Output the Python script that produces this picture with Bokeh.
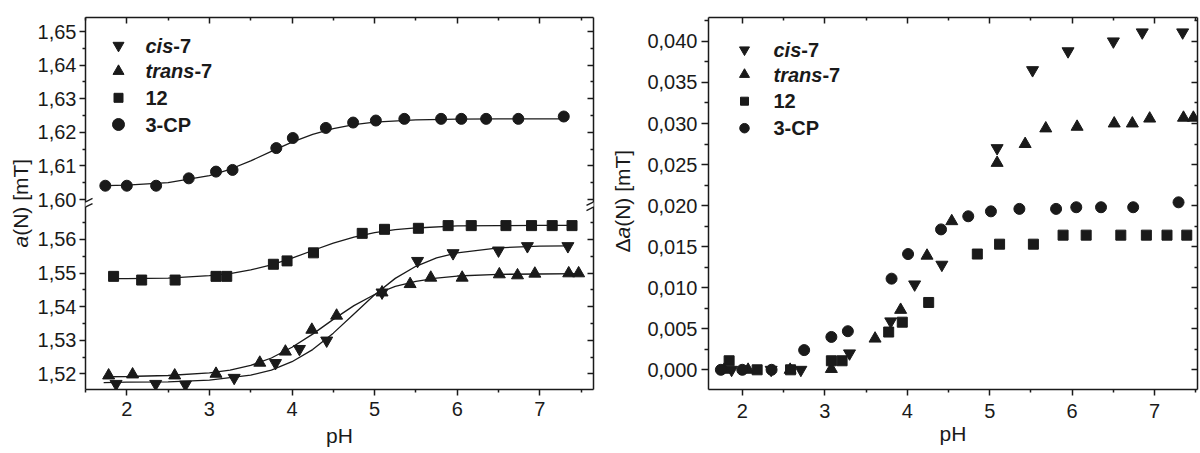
import math
from bokeh.plotting import figure
from bokeh.models import (Range1d, LinearAxis, FixedTicker, CustomJSTickFormatter,
                          Label, Arrow)
from bokeh.layouts import row
from bokeh.embed import file_html
from bokeh.resources import INLINE

# ---------------- data ----------------
# left panel: a(N) [mT] vs pH
ph_cis = [1.87, 2.35, 2.71, 3.30, 3.80, 4.09, 4.42, 5.09, 5.52, 5.95, 6.50, 6.85, 7.34]
aN_cis = [1.5170, 1.5170, 1.5168, 1.5188, 1.5232, 1.5274, 1.5299, 1.5442, 1.5536,
          1.5559, 1.5567, 1.5580, 1.5580]
ph_trans = [1.78, 2.07, 2.58, 3.08, 3.61, 3.92, 4.24, 4.54, 5.09, 5.43, 5.68, 6.06,
            6.51, 6.73, 6.94, 7.35, 7.47]
aN_trans = [1.5195, 1.5198, 1.5195, 1.5200, 1.5233, 1.5266, 1.5331, 1.5373, 1.5442,
            1.5467, 1.5486, 1.5486, 1.5496, 1.5493, 1.5498, 1.5499, 1.5499]
ph_12 = [1.84, 2.18, 2.585, 3.08, 3.21, 3.775, 3.94, 4.26, 4.85, 5.12, 5.53, 5.89,
         6.17, 6.59, 6.90, 7.15, 7.39]
aN_12 = [1.5490, 1.5479, 1.5479, 1.5490, 1.5490, 1.5526, 1.5536, 1.5560, 1.5618,
         1.5630, 1.5633, 1.5641, 1.5641, 1.5641, 1.5641, 1.5641, 1.5641]
ph_3cp = [1.74, 2.00, 2.355, 2.75, 3.08, 3.28, 3.81, 4.01, 4.41, 4.74, 5.015, 5.36,
          5.805, 6.05, 6.35, 6.74, 7.29]
aN_3cp = [1.6041, 1.6041, 1.6041, 1.6063, 1.6083, 1.6088, 1.6153, 1.6183, 1.6213,
          1.6229, 1.6235, 1.6240, 1.6240, 1.6240, 1.6240, 1.6240, 1.6247]

# fitted curves
fit_ph_cis = [1.72, 2.0, 2.5, 3.0, 3.5, 3.75, 4.0, 4.25, 4.5, 4.75, 5.0, 5.25, 5.5,
              5.75, 6.0, 6.5, 7.0, 7.34]
fit_cis = [1.5174, 1.5175, 1.5176, 1.5181, 1.5196, 1.5211, 1.5236, 1.5272, 1.5321,
           1.5378, 1.5435, 1.5484, 1.5520, 1.5545, 1.5560, 1.5575, 1.5580, 1.5581]
fit_ph_trans = [1.72, 2.0, 2.5, 3.0, 3.25, 3.5, 3.75, 4.0, 4.25, 4.5, 4.75, 5.0,
                5.25, 5.5, 5.75, 6.0, 6.5, 7.0, 7.5]
fit_trans = [1.5191, 1.5192, 1.5195, 1.5203, 1.5211, 1.5225, 1.5247, 1.5279, 1.5318,
             1.5362, 1.5403, 1.5436, 1.5460, 1.5475, 1.5485, 1.5491, 1.5496, 1.5497,
             1.5498]
fit_ph_12 = [1.84, 2.0, 2.5, 3.0, 3.25, 3.5, 3.75, 4.0, 4.25, 4.5, 4.75, 5.0, 5.25,
             5.5, 6.0, 6.5, 7.0, 7.39]
fit_12 = [1.5483, 1.5483, 1.5485, 1.5492, 1.5498, 1.5509, 1.5524, 1.5544, 1.5567,
          1.5589, 1.5607, 1.5620, 1.5629, 1.5634, 1.5640, 1.5641, 1.5642, 1.5642]
fit_ph_3cp = [1.74, 2.0, 2.5, 3.0, 3.25, 3.5, 3.75, 4.0, 4.25, 4.5, 4.75, 5.0, 5.5,
              6.0, 6.5, 7.0, 7.29]
fit_3cp = [1.6041, 1.6043, 1.6050, 1.6071, 1.6090, 1.6115, 1.6143, 1.6171, 1.6194,
           1.6211, 1.6223, 1.6230, 1.6237, 1.6239, 1.6240, 1.6240, 1.6240]

# right panel: delta a(N) [mT] vs pH
d_cis = [0.0, 0.0, 0.0, 0.0020, 0.0059, 0.0104, 0.0128, 0.0270, 0.0365, 0.0388,
         0.0400, 0.0411, 0.0411]
d_trans = [0.0, 0.0, 0.0, 0.0001, 0.0038, 0.0073, 0.0139, 0.0181, 0.0252, 0.0275,
           0.0294, 0.0296, 0.0300, 0.0300, 0.0306, 0.0307, 0.0307]
d_12 = [0.0011, 0.0, 0.0, 0.0011, 0.0011, 0.0046, 0.0058, 0.0082, 0.0141, 0.0153,
        0.0153, 0.0164, 0.0164, 0.0164, 0.0164, 0.0164, 0.0164]
d_3cp = [0.0, 0.0, 0.0, 0.0024, 0.0040, 0.0047, 0.0111, 0.0141, 0.0171, 0.0187,
         0.0193, 0.0196, 0.0196, 0.0198, 0.0198, 0.0198, 0.0204]

# ticks
x_ticks = [2, 3, 4, 5, 6, 7]
x_minor = [1.5, 2.5, 3.5, 4.5, 5.5, 6.5, 7.5]
yl_ticks_lower = [1.52, 1.53, 1.54, 1.55, 1.56]
yl_minor_lower = [1.515, 1.525, 1.535, 1.545, 1.555, 1.565]
yl_ticks_upper = [1.60, 1.61, 1.62, 1.63, 1.64, 1.65]
yl_minor_upper = [1.605, 1.615, 1.625, 1.635, 1.645]
yr_ticks = [0.0, 0.005, 0.010, 0.015, 0.020, 0.025, 0.030, 0.035, 0.040]
yr_minor = [0.0025, 0.0075, 0.0125, 0.0175, 0.0225, 0.0275, 0.0325, 0.0375, 0.0425]

markers = ["inverted_triangle", "triangle", "square", "circle"]

FONT = "Liberation Sans"
INK = "#1a1a1a"
TICK_FS = "20px"
H = 453
TOP, BOT = 17, 389            # shared frame top / bottom (page px)
FH = BOT - TOP


def style_axis(ax, labelled):
    ax.axis_line_color = INK
    ax.axis_line_width = 1.5
    ax.major_tick_line_color = INK
    ax.major_tick_line_width = 1.5
    ax.minor_tick_line_color = INK
    ax.minor_tick_line_width = 1.5
    if labelled:
        ax.major_tick_out = 6
        ax.major_tick_in = 0
        ax.minor_tick_out = 3
        ax.minor_tick_in = 0
        ax.major_label_text_font = FONT
        ax.major_label_text_font_size = TICK_FS
        ax.major_label_text_color = INK
    else:
        ax.major_tick_out = 0
        ax.major_tick_in = 6
        ax.minor_tick_out = 0
        ax.minor_tick_in = 3
        ax.major_label_text_font_size = "0px"
        ax.major_label_standoff = 0
        ax.formatter = CustomJSTickFormatter(code="return ''")


def label(p, x, y, text, size="20px", style="normal", angle=0.0, align="left"):
    p.add_layout(Label(x=x, y=y, x_units="screen", y_units="screen", text=text,
                       text_font=FONT, text_font_size=size, text_font_style=style,
                       text_color=INK, angle=angle, text_align=align,
                       text_baseline="middle"))


def plain_fig(w, **kw):
    f = figure(width=w, height=H, output_backend="svg", toolbar_location=None,
               x_axis_location=None, y_axis_location=None, **kw)
    f.outline_line_color = None
    f.background_fill_color = "white"
    f.border_fill_color = "white"
    f.xgrid.visible = False
    f.ygrid.visible = False
    return f


def x_axis_title(ax, standoff):
    ax.axis_label = "pH"
    ax.axis_label_text_font = FONT
    ax.axis_label_text_font_size = "21px"
    ax.axis_label_text_font_style = "normal"
    ax.axis_label_text_color = INK
    ax.axis_label_standoff = standoff


# ---------------- y-axis title strips ----------------
lab1 = plain_fig(34, x_range=Range1d(0, 1), y_range=Range1d(0, 1),
                 min_border_left=0, min_border_right=0, min_border_top=TOP,
                 min_border_bottom=H - BOT)
label(lab1, 20, BOT - 247, "a", size="21px", style="italic", angle=math.pi / 2)
label(lab1, 20, BOT - 247 + 11.7, "(N) [mT]", size="21px", angle=math.pi / 2)

lab2 = plain_fig(39, x_range=Range1d(0, 1), y_range=Range1d(0, 1),
                 min_border_left=0, min_border_right=0, min_border_top=TOP,
                 min_border_bottom=H - BOT)
label(lab2, 21, BOT - 252, "\u0394", size="21px", angle=math.pi / 2)
label(lab2, 21, BOT - 252 + 14.0, "a", size="21px", style="italic", angle=math.pi / 2)
label(lab2, 21, BOT - 252 + 14.0 + 11.7, "(N) [mT]", size="21px", angle=math.pi / 2)

# ---------------- left panel (broken y axis) ----------------
L_FW = 508
lx0, lx1 = 1.5, 7.65
k = 3360.0                      # px per mT on both segments
lo0 = 1.52 - (BOT - 373.3) / k
lo1 = lo0 + FH / k
up1 = 1.65 + (31 - TOP) / k
up0 = up1 - FH / k
off = up1 - lo1                 # upper value -> default-range coordinate shift
brk = lo0 + (BOT - 204) / k     # break position (default coordinates)
sxl = L_FW / (lx1 - lx0)

p1 = plain_fig(567, x_range=Range1d(lx0, lx1), y_range=Range1d(lo0, lo1),
               min_border_left=51, min_border_right=8, min_border_top=TOP,
               min_border_bottom=H - BOT)
p1.extra_y_ranges = {"upper": Range1d(up0, up1)}

yticks_pos = yl_ticks_lower + [v - off for v in yl_ticks_upper]
yminor_pos = yl_minor_lower + [v - off for v in yl_minor_upper]
yfmt = CustomJSTickFormatter(args=dict(brk=brk, off=off), code="""
    const v = tick > brk ? tick + off : tick;
    return v.toFixed(2).replace('.', ',');
""")

ax = LinearAxis(ticker=FixedTicker(ticks=x_ticks, minor_ticks=x_minor))
style_axis(ax, True)
ax.major_label_standoff = 6
x_axis_title(ax, 5)
p1.add_layout(ax, "below")
ax = LinearAxis(ticker=FixedTicker(ticks=x_ticks, minor_ticks=x_minor))
style_axis(ax, False)
p1.add_layout(ax, "above")
ax = LinearAxis(ticker=FixedTicker(ticks=yticks_pos, minor_ticks=yminor_pos), formatter=yfmt)
style_axis(ax, True)
ax.major_label_standoff = 3
p1.add_layout(ax, "left")
ax = LinearAxis(ticker=FixedTicker(ticks=yticks_pos, minor_ticks=yminor_pos))
style_axis(ax, False)
p1.add_layout(ax, "right")

# fit curves
for xs, ys, rn in [(fit_ph_cis, fit_cis, "default"), (fit_ph_trans, fit_trans, "default"),
                   (fit_ph_12, fit_12, "default"), (fit_ph_3cp, fit_3cp, "upper")]:
    p1.line(xs, ys, line_color=INK, line_width=1.3, y_range_name=rn)

# points
sizes_l = [12, 12, 10, 11]
for xs, ys, mk, sz, rn in [(ph_cis, aN_cis, markers[0], sizes_l[0], "default"),
                           (ph_trans, aN_trans, markers[1], sizes_l[1], "default"),
                           (ph_12, aN_12, markers[2], sizes_l[2], "default"),
                           (ph_3cp, aN_3cp, markers[3], sizes_l[3], "upper")]:
    p1.scatter(xs, ys, marker=mk, size=sz, fill_color=INK, line_color=INK,
               y_range_name=rn)


def break_marks(p, xd, yd, sx, sy):
    dx, dy, g = 7 / sx, 3.5 / sy, 2.6 / sy
    p.add_layout(Arrow(end=None, x_start=xd - dx, y_start=yd - dy, x_end=xd + dx,
                       y_end=yd + dy, line_color="white", line_width=4))
    for s in (-1, 1):
        p.add_layout(Arrow(end=None, x_start=xd - dx, y_start=yd - dy + s * g,
                           x_end=xd + dx, y_end=yd + dy + s * g, line_color=INK,
                           line_width=1.3))


break_marks(p1, lx0, brk, sxl, k)
break_marks(p1, lx1, brk, sxl, k)

# legend (left) -- rows given as page y of the reference
leg_rows_l = [BOT - y for y in (45, 70.7, 97.3, 124)]
leg_sizes_l = [11, 11, 9, 12]
for mk, yy, sz in zip(markers, leg_rows_l, leg_sizes_l):
    p1.scatter([lx0 + 33 / sxl], [lo0 + yy / k], marker=mk, size=sz,
               fill_color=INK, line_color=INK)
label(p1, 60, leg_rows_l[0], "cis", style="bold italic")
label(p1, 60 + 27.8, leg_rows_l[0], "-7", style="bold")
label(p1, 60, leg_rows_l[1], "trans", style="bold italic")
label(p1, 60 + 48.9, leg_rows_l[1], "-7", style="bold")
label(p1, 60, leg_rows_l[2], "12", style="bold")
label(p1, 60, leg_rows_l[3], "3-CP", style="bold")

# ---------------- right panel ----------------
R_FW = 489
rx0, rx1 = 1.59, 7.52
ky = 8210.0
ry0 = -(BOT - 369.3) / ky
ry1 = ry0 + FH / ky
sxr = R_FW / (rx1 - rx0)

p2 = plain_fig(560, x_range=Range1d(rx0, rx1), y_range=Range1d(ry0, ry1),
               min_border_left=68, min_border_right=3, min_border_top=TOP,
               min_border_bottom=H - BOT)

ax = LinearAxis(ticker=FixedTicker(ticks=x_ticks, minor_ticks=x_minor))
style_axis(ax, True)
ax.major_label_standoff = 8
x_axis_title(ax, 1)
p2.add_layout(ax, "below")
ax = LinearAxis(ticker=FixedTicker(ticks=x_ticks, minor_ticks=x_minor))
style_axis(ax, False)
p2.add_layout(ax, "above")
ax = LinearAxis(ticker=FixedTicker(ticks=yr_ticks, minor_ticks=yr_minor),
                formatter=CustomJSTickFormatter(code="return tick.toFixed(3).replace('.', ',');"))
style_axis(ax, True)
ax.major_tick_out = 7
ax.minor_tick_out = 4
ax.major_label_standoff = 4
p2.add_layout(ax, "left")
ax = LinearAxis(ticker=FixedTicker(ticks=yr_ticks, minor_ticks=yr_minor))
style_axis(ax, False)
p2.add_layout(ax, "right")

sizes_r = [12, 12, 10, 11]
for xs, ys, mk, sz in [(ph_cis, d_cis, markers[0], sizes_r[0]),
                       (ph_trans, d_trans, markers[1], sizes_r[1]),
                       (ph_12, d_12, markers[2], sizes_r[2]),
                       (ph_3cp, d_3cp, markers[3], sizes_r[3])]:
    p2.scatter(xs, ys, marker=mk, size=sz, fill_color=INK, line_color=INK)

leg_rows_r = [BOT - y for y in (49.3, 74, 100.7, 127.7)]
leg_sizes_r = [10, 10, 8, 9.5]
for mk, yy, sz in zip(markers, leg_rows_r, leg_sizes_r):
    p2.scatter([rx0 + 36 / sxr], [ry0 + yy / ky], marker=mk, size=sz,
               fill_color=INK, line_color=INK)
label(p2, 65, leg_rows_r[0], "cis", style="bold italic")
label(p2, 65 + 27.8, leg_rows_r[0], "-7", style="bold")
label(p2, 65, leg_rows_r[1], "trans", style="bold italic")
label(p2, 65 + 48.9, leg_rows_r[1], "-7", style="bold")
label(p2, 65, leg_rows_r[2], "12", style="bold")
label(p2, 65, leg_rows_r[3], "3-CP", style="bold")

layout = row(lab1, p1, lab2, p2)
open("out.html", "w").write(file_html(layout, INLINE))
